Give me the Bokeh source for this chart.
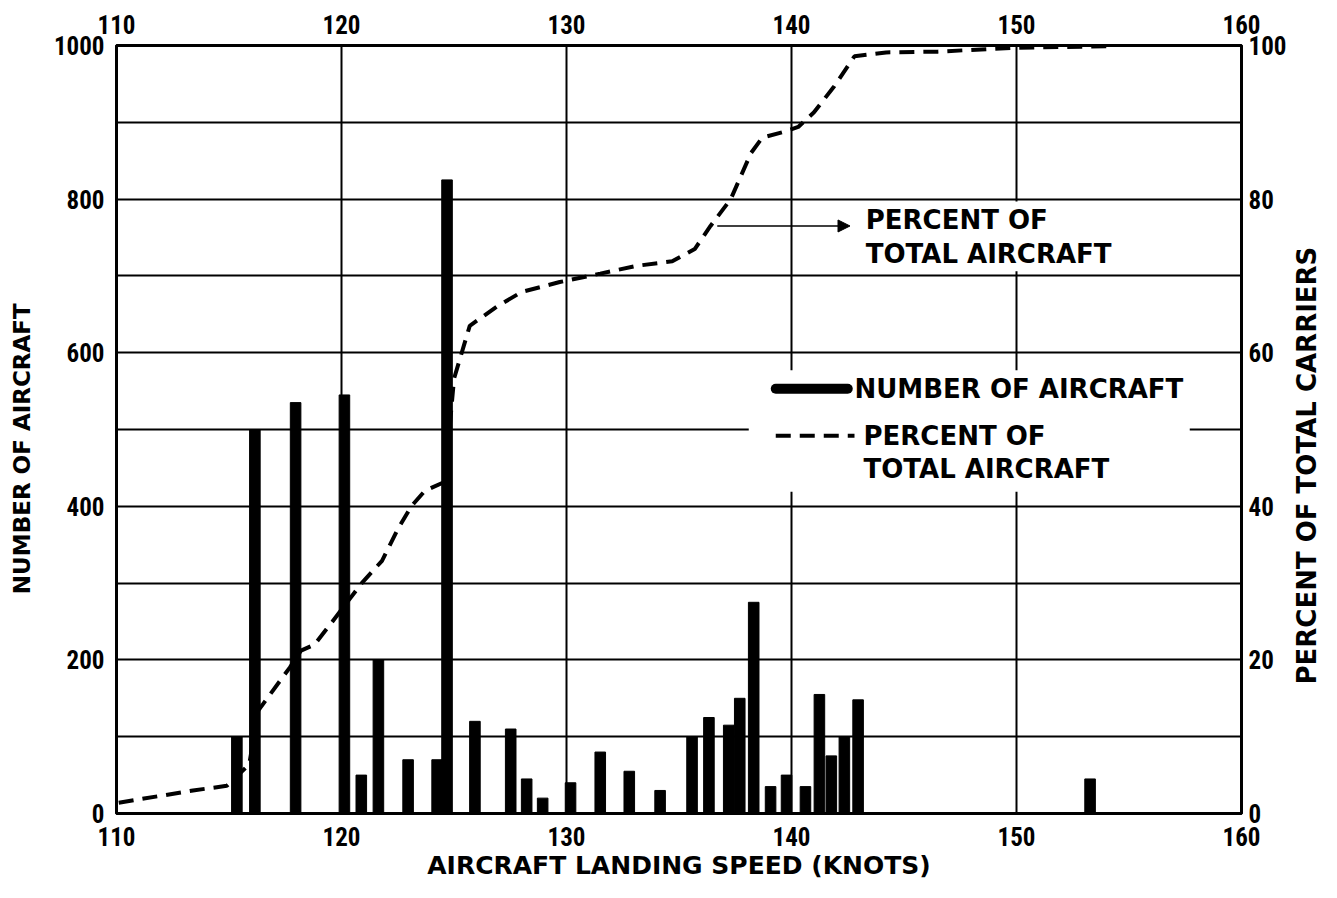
import math
from bokeh.plotting import figure
from bokeh.layouts import row
from bokeh.models import Range1d, LinearAxis, FixedTicker, Arrow, NormalHead
from bokeh.core.properties import value
from bokeh.embed import file_html
from bokeh.resources import INLINE

# ---- data ----
bar_speed = [115.35, 116.15, 117.96, 120.13, 120.88, 121.64, 122.96, 124.25, 124.69, 125.93,
             127.52, 128.23, 128.94, 130.18, 131.50, 132.79, 134.16, 135.58, 136.33, 137.21,
             137.70, 138.32, 139.07, 139.78, 140.62, 141.24, 141.77, 142.35, 142.96, 153.27]
bar_count = [100, 500, 535, 545, 50, 200, 70, 70, 825, 120,
             110, 45, 20, 40, 80, 55, 30, 100, 125, 115,
             150, 275, 35, 50, 35, 155, 75, 100, 148, 45]

pct_speed = [110.1, 113.4, 114.9, 115.3, 115.9, 116.3, 117.7, 118.2, 118.8, 119.6,
             120.9, 121.8, 122.5, 123.1, 123.7, 124.6, 124.8, 125.0, 125.7, 126.9,
             128.0, 129.7, 131.5, 133.1, 134.7, 135.7, 136.4, 137.3, 138.2, 138.7,
             139.6, 140.3, 141.0, 141.9, 142.8, 144.2, 146.5, 149.8, 154.3]
pct_value = [1.4, 3.0, 3.6, 4.7, 6.4, 13.4, 19.0, 21.2, 22.0, 25.0,
             30.0, 32.9, 37.0, 40.0, 42.0, 43.2, 50.0, 56.6, 63.5, 66.0,
             67.9, 69.2, 70.3, 71.3, 71.9, 73.5, 76.5, 80.0, 86.0, 88.0,
             88.7, 89.4, 91.3, 94.7, 98.6, 99.1, 99.2, 99.7, 99.9]

x_ticks = [110, 120, 130, 140, 150, 160]
left_ticks = [0, 200, 400, 600, 800, 1000]
right_ticks = [0, 20, 40, 60, 80, 100]
grid_y = [0, 100, 200, 300, 400, 500, 600, 700, 800, 900, 1000]

FONT = "DejaVu Sans"
TICK_FONT = "Roboto Condensed"
H = 882
TOP, BOTTOM = 45, 67


def style_axis(ax):
    ax.axis_line_width = 3
    ax.axis_line_color = "black"
    ax.major_tick_in = 0
    ax.major_tick_out = 0
    ax.minor_tick_in = 0
    ax.minor_tick_out = 0
    ax.major_label_text_font = TICK_FONT
    ax.major_label_text_font_style = "bold"
    ax.major_label_text_font_size = "25px"
    ax.major_label_text_color = "black"
    ax.axis_label_text_font = FONT
    ax.axis_label_text_font_style = "bold"
    ax.axis_label_text_font_size = "25px"
    ax.axis_label_text_color = "black"


def title_strip(width, label, x_pos, y_pos, size):
    """Narrow blank figure holding a vertical title that reads bottom-to-top."""
    f = figure(width=width, height=H, x_range=Range1d(0, width), y_range=Range1d(0, 1000),
               output_backend="svg", toolbar_location=None,
               min_border_left=0, min_border_right=0,
               min_border_top=TOP, min_border_bottom=BOTTOM)
    f.outline_line_color = None
    f.background_fill_color = "white"
    f.border_fill_color = "white"
    f.grid.visible = False
    f.axis.visible = False
    f.text(x=[x_pos], y=[y_pos], text=[label], angle=math.pi / 2,
           text_font=value(FONT), text_font_style="bold", text_font_size=size,
           text_align="center", text_baseline="middle", text_color="black")
    return f


left_strip = title_strip(50, "NUMBER OF AIRCRAFT", 21, 475, "23px")
right_strip = title_strip(32, "PERCENT OF TOTAL CARRIERS", 17, 453, "26px")

p = figure(width=1321 - 50 - 32, height=H, x_range=Range1d(110, 160), y_range=Range1d(0, 1000),
           output_backend="svg", toolbar_location=None,
           min_border_left=63, min_border_right=47, min_border_top=TOP, min_border_bottom=BOTTOM)
p.background_fill_color = "white"
p.border_fill_color = "white"
p.outline_line_color = "black"
p.outline_line_width = 3

p.extra_y_ranges = {"pct": Range1d(0, 100)}

xb = p.xaxis[0]
xb.ticker = FixedTicker(ticks=x_ticks)
xb.axis_label = "AIRCRAFT LANDING SPEED (KNOTS)"
xb.major_label_standoff = 13
xb.axis_label_standoff = 2
style_axis(xb)

yl = p.yaxis[0]
yl.ticker = FixedTicker(ticks=left_ticks)
yl.major_label_standoff = 12
style_axis(yl)

xt = LinearAxis(ticker=FixedTicker(ticks=x_ticks))
style_axis(xt)
xt.major_label_standoff = 12
p.add_layout(xt, "above")

yr = LinearAxis(y_range_name="pct", ticker=FixedTicker(ticks=right_ticks))
style_axis(yr)
yr.major_label_standoff = 7
p.add_layout(yr, "right")

p.xgrid.ticker = FixedTicker(ticks=x_ticks)
p.ygrid.ticker = FixedTicker(ticks=grid_y)
for g in (p.xgrid[0], p.ygrid[0]):
    g.grid_line_color = "black"
    g.grid_line_width = 2
    g.grid_line_alpha = 1

# white boxes behind annotation / legend text (gaps in the grid)
p.quad(left=[138.1, 143.0], right=[157.7, 155.6], bottom=[419, 706], top=[577, 797],
       fill_color="white", line_color=None)

# bars
p.vbar(x=bar_speed, top=bar_count, bottom=0, width=0.47, fill_color="black", line_color="black")

# cumulative percent curve
p.line(pct_speed, pct_value, y_range_name="pct", line_color="black", line_width=4,
       line_dash="15 9")

# annotation near the curve
p.add_layout(Arrow(end=NormalHead(size=12, fill_color="black", line_color="black"),
                   x_start=136.7, y_start=765, x_end=142.6, y_end=765,
                   line_width=1.5, line_color="black"))
p.text(x=[143.3, 143.3], y=[773, 729], text=["PERCENT OF", "TOTAL AIRCRAFT"],
       text_font=value(FONT), text_font_style="bold", text_font_size="26px",
       text_baseline="middle", text_align="left", text_color="black")

# legend drawn by hand
p.line([139.3, 142.5], [553, 553], line_color="black", line_width=10, line_cap="round")
p.line([139.3, 142.8], [492, 492], line_color="black", line_width=4, line_dash="15 9")
p.text(x=[142.8, 143.2, 143.2], y=[553, 492, 448],
       text=["NUMBER OF AIRCRAFT", "PERCENT OF", "TOTAL AIRCRAFT"],
       text_font=value(FONT), text_font_style="bold", text_font_size="26px",
       text_baseline="middle", text_align="left", text_color="black")

layout = row(left_strip, p, right_strip, spacing=0)
open("out.html", "w").write(file_html(layout, INLINE))
